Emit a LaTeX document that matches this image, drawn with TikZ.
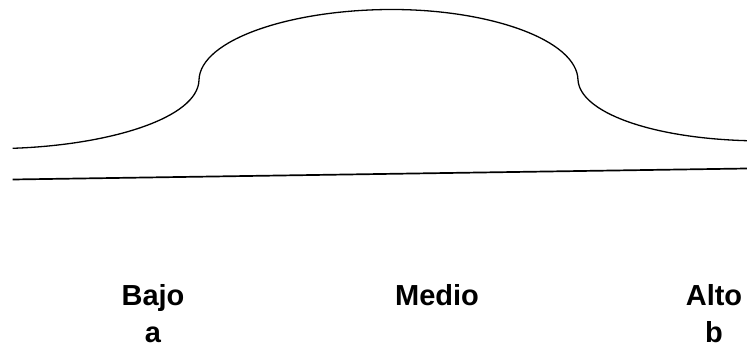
\documentclass[tikz,border=0pt]{standalone}
\usepackage{fontspec}
\setmainfont{Liberation Sans}
\begin{document}
\begin{tikzpicture}[
  x=1pt, y=-1pt,
  curve/.style={line width=1.3pt},
  base/.style={line width=1.7pt},
  every node/.style={inner sep=0pt, anchor=north, align=center, font=\fontsize{29}{37}\selectfont\bfseries}
]
\useasboundingbox (0,0) rectangle (747,347);
% distribution curve
\draw[curve] (12.7,148.3) .. controls (110,145) and (198,118) .. (199,80)
  .. controls (200,40) and (290,9.5) .. (392,9.5)
  .. controls (490,9.5) and (577,40) .. (578,80)
  .. controls (580,112) and (650,138) .. (747,140.7);
% base line
\coordinate (left) at (12.7,179.5);
\coordinate (right) at (747,168.5);
\draw[base] (left) -- (right);
% labels
\node (bajo)  at (153,284) {Bajo\\a};
\node (medio) at (437,284) {Medio};
\node (alto)  at (714,284) {Alto\\b};
\end{tikzpicture}
\end{document}
